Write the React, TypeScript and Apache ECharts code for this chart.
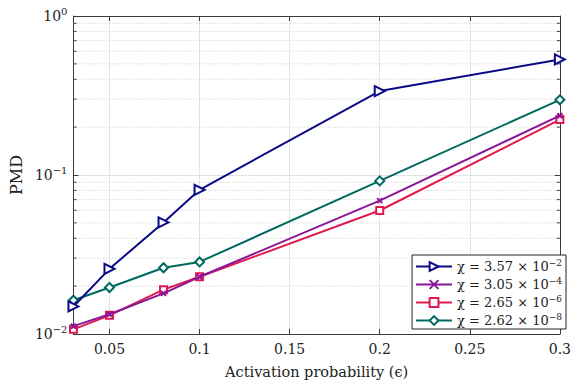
import React, { useEffect, useRef } from "react";
import * as echarts from "echarts";

const xValues = [0.03, 0.05, 0.08, 0.1, 0.2, 0.3];
const seriesNames = ["3.57|−2", "3.05|−4", "2.65|−6", "2.62|−8"];
const blueVals = [0.0149, 0.0257, 0.0503, 0.0807, 0.337, 0.533];
const purpleVals = [0.0112, 0.0133, 0.018, 0.0229, 0.069, 0.236];
const redVals = [0.0107, 0.0131, 0.019, 0.0229, 0.0598, 0.223];
const tealVals = [0.0163, 0.0196, 0.0261, 0.0284, 0.0918, 0.297];
const minorY = [0.02, 0.03, 0.04, 0.05, 0.06, 0.07, 0.08, 0.09, 0.2, 0.3, 0.4, 0.5, 0.6, 0.7, 0.8, 0.9];

const FONT = "DejaVu Serif";
const AXC = "#3a3a3a";

export default function App() {
  const ref = useRef<HTMLDivElement>(null);
  useEffect(() => {
    const chart = echarts.init(ref.current!, null, { renderer: "svg" });
    const colors = ["#0a0a86", "#8a1596", "#e01a4f", "#00685f"];
    const symbols = ["emptyTriangle", "path://M0,0L10,10M10,0L0,10", "emptyRect", "emptyDiamond"];
    const sizes = [10, 5, 7, 9];
    const rotates = [-90, 0, 0, 0];
    const vals = [blueVals, purpleVals, redVals, tealVals];
    const legendName = (s: string) => {
      const [m, e] = s.split("|");
      return `χ = ${m} × 10^${e}`;
    };
    const lineSeries = vals.map((v, i) => ({
      type: "line",
      name: legendName(seriesNames[i]),
      data: xValues.map((x, j) => [x, v[j]]),
      symbol: symbols[i],
      symbolSize: sizes[i],
      symbolRotate: rotates[i],
      showAllSymbol: true,
      color: colors[i],
      lineStyle: { color: colors[i], width: 2 },
      itemStyle: { color: colors[i], borderColor: colors[i], borderWidth: 2 },
      z: 5 + (3 - i),
    }));
    const minorSeries = {
      type: "custom",
      silent: true,
      z: 1,
      data: minorY.map((y) => [0.03, y]),
      renderItem: (params: any, api: any) => {
        const cs = params.coordSys;
        const p = api.coord([0.03, api.value(1)]);
        const y = p[1];
        return {
          type: "group",
          children: [
            { type: "line", shape: { x1: cs.x, y1: y, x2: cs.x + cs.width, y2: y }, style: { stroke: "#c8c8c8", lineWidth: 1, lineDash: [1, 2] } },
            { type: "line", shape: { x1: cs.x, y1: y, x2: cs.x + 3, y2: y }, style: { stroke: AXC, lineWidth: 1 } },
            { type: "line", shape: { x1: cs.x + cs.width - 3, y1: y, x2: cs.x + cs.width, y2: y }, style: { stroke: AXC, lineWidth: 1 } },
          ],
        };
      },
    };
    const xCommon = {
      type: "value",
      min: 0.03,
      max: 0.3,
      splitNumber: 5,
      minInterval: 0.05,
      maxInterval: 0.05,
      axisLine: { show: true, onZero: false, lineStyle: { color: AXC, width: 1 } },
      axisTick: { show: true, inside: true, length: 5, lineStyle: { color: AXC } },
    };
    const yCommon = {
      type: "log",
      logBase: 10,
      min: 0.01,
      max: 1,
      axisLine: { show: true, onZero: false, lineStyle: { color: AXC, width: 1 } },
      axisTick: { show: true, inside: true, length: 5, lineStyle: { color: AXC } },
    };
    chart.setOption({
      animation: false,
      backgroundColor: "#ffffff",
      grid: { left: 71, right: 10, top: 16, bottom: 46, containLabel: false },
      xAxis: [
        {
          ...xCommon,
          position: "bottom",
          name: "Activation probability (ϵ)",
          nameLocation: "middle",
          nameGap: 30,
          nameTextStyle: { fontFamily: FONT, fontSize: 14.5, color: "#222" },
          axisLabel: {
            showMinLabel: false,
            fontFamily: FONT,
            fontSize: 14,
            color: "#222",
            margin: 8,
            formatter: (v: number) => String(Math.round(v * 100) / 100),
          },
          splitLine: { show: true, lineStyle: { color: "#e3e3e3", width: 1 } },
        },
        {
          ...xCommon,
          position: "top",
          axisLabel: { show: false },
          splitLine: { show: false },
        },
      ],
      yAxis: [
        {
          ...yCommon,
          position: "left",
          name: "PMD",
          nameLocation: "middle",
          nameGap: 38,
          nameTextStyle: { fontFamily: FONT, fontSize: 16, color: "#222" },
          axisLabel: {
            fontFamily: FONT,
            fontSize: 14,
            color: "#222",
            margin: 6,
            formatter: (v: number) => {
              const e = Math.round(Math.log10(v));
              return `{b|10}{s|${e < 0 ? "−" + -e : e}}`;
            },
            rich: {
              b: { fontFamily: FONT, fontSize: 14, color: "#222" },
              s: { fontFamily: FONT, fontSize: 10, color: "#222", padding: [0, 0, 9, 0] },
            },
          },
          splitLine: { show: true, lineStyle: { color: "#e3e3e3", width: 1 } },
        },
        {
          ...yCommon,
          position: "right",
          axisLabel: { show: false },
          splitLine: { show: false },
        },
      ],
      legend: {
        orient: "vertical",
        right: 8,
        bottom: 55,
        backgroundColor: "#ffffff",
        borderColor: "#222",
        borderWidth: 1,
        borderRadius: 0,
        padding: [3, 4, 2, 3],
        itemGap: 3,
        itemWidth: 36,
        itemHeight: 11,
        data: lineSeries.map((s) => s.name),
        formatter: (name: string) => {
          const [pre, e] = name.split("^");
          return `{b|${pre}}{s|${e}}`;
        },
        textStyle: {
          fontFamily: FONT,
          fontSize: 13,
          color: "#222",
          rich: {
            b: { fontFamily: FONT, fontSize: 13, color: "#222" },
            s: { fontFamily: FONT, fontSize: 9, color: "#222", padding: [0, 0, 8, 0] },
          },
        },
      },
      series: [minorSeries, ...lineSeries],
    });
    return () => chart.dispose();
  }, []);
  return <div ref={ref} style={{ position: "absolute", left: 0, top: 0, width: 574, height: 384 }} />;
}
